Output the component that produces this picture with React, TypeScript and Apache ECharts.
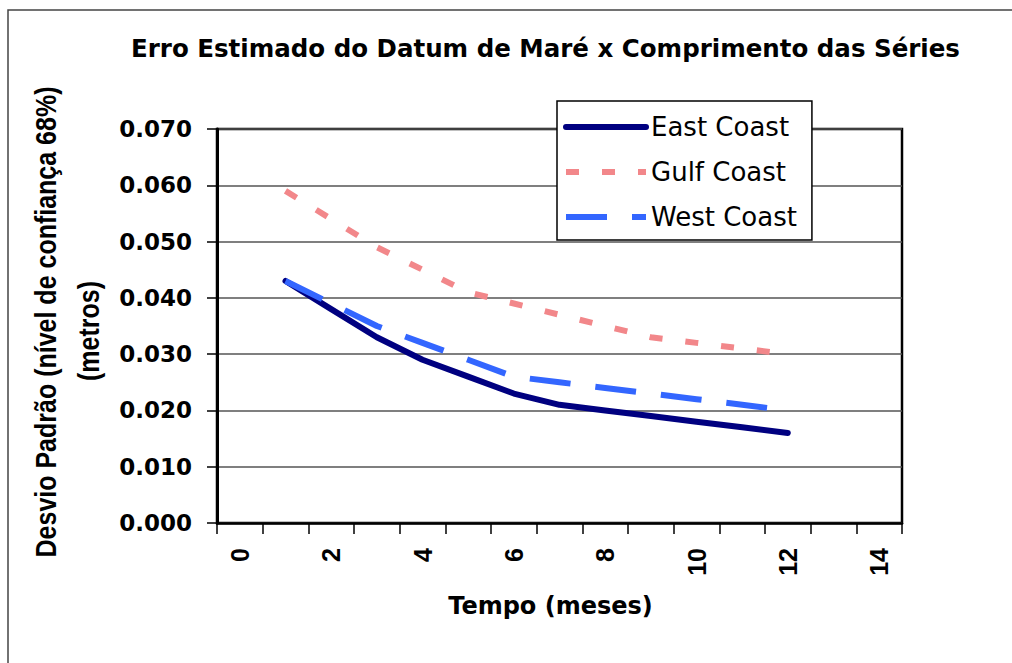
import React, { useEffect, useRef } from "react";
import * as echarts from "echarts";

// Record length in months (category axis 0..14)
const months = ["0", "1", "2", "3", "4", "5", "6", "7", "8", "9", "10", "11", "12", "13", "14"];

// Estimated tidal datum error, standard deviation in metres (68% confidence)
const eastCoast = [null, 0.043, 0.038, 0.033, 0.029, 0.026, 0.023, 0.021, 0.020, 0.019, 0.018, 0.017, 0.016, null, null];
const gulfCoast = [null, 0.059, 0.054, 0.049, 0.045, 0.041, 0.039, 0.037, 0.035, 0.033, 0.032, 0.031, 0.030, null, null];
const westCoast = [null, 0.043, 0.039, 0.035, 0.032, 0.029, 0.026, 0.025, 0.024, 0.023, 0.022, 0.021, 0.020, null, null];

const seriesNames = ["East Coast", "Gulf Coast", "West Coast"];

const chartTitle = "Erro Estimado do Datum de Maré x Comprimento das Séries";
const xAxisTitle = "Tempo (meses)";
const yAxisTitleLine1 = "Desvio Padrão (nível de confiança 68%)";
const yAxisTitleLine2 = "(metros)";

const HFONT = "DejaVu Sans";
const VFONT = "Liberation Sans";

export default function App() {
  const ref = useRef<HTMLDivElement>(null);

  useEffect(() => {
    document.body.style.margin = "0";
    const chart = echarts.init(ref.current!, null, { renderer: "svg" });

    const option: echarts.EChartsOption = {
      animation: false,
      backgroundColor: "#ffffff",
      title: {
        text: chartTitle,
        left: 131,
        top: 36,
        padding: 0,
        textStyle: { fontFamily: HFONT, fontWeight: "bold", fontSize: 24.5, color: "#000" },
      },
      legend: {
        data: seriesNames,
        orient: "vertical",
        left: 557,
        top: 101,
        padding: [13, 15, 10, 6],
        itemGap: 19,
        itemWidth: 80,
        itemHeight: 24,
        backgroundColor: "#ffffff",
        borderColor: "#000000",
        borderWidth: 1.5,
        selectedMode: false,
        itemStyle: { opacity: 0 },
        lineStyle: { width: 6 },
        textStyle: { fontFamily: HFONT, fontSize: 26, color: "#000" },
      },
      grid: {
        left: 217,
        top: 129,
        width: 685,
        height: 394,
        show: true,
        borderColor: "#000",
        borderWidth: 2.5,
        backgroundColor: "transparent",
      },
      xAxis: {
        type: "category",
        data: months,
        boundaryGap: true,
        name: xAxisTitle,
        nameLocation: "middle",
        nameGap: 71,
        nameTextStyle: {
          fontFamily: HFONT,
          fontWeight: "bold",
          fontSize: 24,
          color: "#000",
          padding: [0, 18, 0, 0],
        },
        axisLine: { show: true, lineStyle: { color: "#000", width: 2.5 } },
        axisTick: { show: true, interval: 0, length: 11, lineStyle: { color: "#000", width: 1.5 } },
        axisLabel: {
          interval: 1,
          rotate: 90,
          margin: 25,
          fontFamily: VFONT,
          fontWeight: "bold",
          fontSize: 25,
          color: "#000",
        },
        splitLine: { show: false },
      },
      yAxis: {
        type: "value",
        min: 0,
        max: 0.07,
        interval: 0.01,
        axisLine: { show: true, lineStyle: { color: "#000", width: 3 } },
        axisTick: { show: true, length: 10, lineStyle: { color: "#000", width: 1.5 } },
        axisLabel: {
          margin: 25,
          fontFamily: HFONT,
          fontWeight: "bold",
          fontSize: 23,
          color: "#000",
          formatter: (v: number) => v.toFixed(3),
        },
        splitLine: { show: true, lineStyle: { color: "#555", width: 1.5 } },
      },
      graphic: [
        {
          type: "rect",
          silent: true,
          shape: { x: 8, y: 10, width: 1100, height: 700 },
          style: { fill: "none", stroke: "#444", lineWidth: 1.5 },
        },
        {
          type: "text",
          x: 46,
          y: 322,
          rotation: Math.PI / 2,
          scaleY: 1.15,
          style: {
            text: yAxisTitleLine1,
            font: `bold 25px "${VFONT}"`,
            fill: "#000",
            textAlign: "center",
            textVerticalAlign: "middle",
          },
        },
        {
          type: "text",
          x: 89,
          y: 331,
          rotation: Math.PI / 2,
          scaleY: 1.15,
          style: {
            text: yAxisTitleLine2,
            font: `bold 25px "${VFONT}"`,
            fill: "#000",
            textAlign: "center",
            textVerticalAlign: "middle",
          },
        },
      ],
      series: [
        {
          name: seriesNames[0],
          type: "line",
          data: eastCoast,
          symbol: "none",
          lineStyle: { color: "#000080", width: 6, cap: "round", join: "round" },
          itemStyle: { color: "#000080" },
        },
        {
          name: seriesNames[1],
          type: "line",
          data: gulfCoast,
          symbol: "none",
          lineStyle: { color: "#F2878A", width: 6, type: [13, 23] },
          itemStyle: { color: "#F2878A" },
        },
        {
          name: seriesNames[2],
          type: "line",
          data: westCoast,
          symbol: "none",
          lineStyle: { color: "#3366FF", width: 6, type: [41, 25] },
          itemStyle: { color: "#3366FF" },
        },
      ],
    };

    chart.setOption(option);
    return () => chart.dispose();
  }, []);

  return <div ref={ref} style={{ width: 1012, height: 663 }} />;
}
